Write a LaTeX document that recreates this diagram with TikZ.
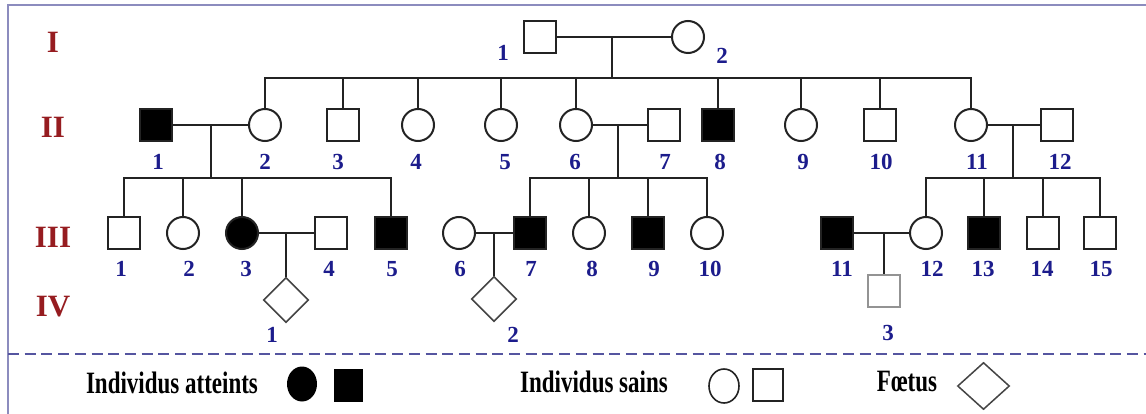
\documentclass[tikz,border=0pt]{standalone}
\usepackage{fontspec}
\setmainfont{Liberation Serif}
\usetikzlibrary{shapes.geometric}
\definecolor{genc}{RGB}{150,28,32}
\definecolor{labc}{RGB}{28,28,140}
\definecolor{framec}{RGB}{140,140,190}
\definecolor{dashc}{RGB}{85,85,160}
\definecolor{lnc}{RGB}{35,35,35}
\begin{document}
\begin{tikzpicture}[x=1pt,y=-1pt,
  sq/.style={rectangle,draw=lnc,line width=2pt,minimum size=32pt,inner sep=0pt,fill=white},
  ci/.style={circle,draw=lnc,line width=2pt,minimum size=32pt,inner sep=0pt,fill=white},
  aff/.style={fill=black},
  foetus/.style={diamond,draw=lnc!85,line width=1.6pt,minimum size=45pt,inner sep=0pt,fill=white},
  num/.style={text=labc,font=\fontsize{23}{23}\selectfont\bfseries,inner sep=0pt},
  genl/.style={text=genc,font=\fontsize{31}{31}\selectfont\bfseries,inner sep=0pt},
  legt/.style={text=black,font=\fontsize{23}{23}\selectfont\bfseries,inner sep=0pt},
  lk/.style={draw=lnc,line width=2pt}]
\useasboundingbox (0,0) rectangle (1146,414);
\fill[white] (0,0) rectangle (1146,414);
% frame
\draw[framec,line width=2.5pt] (8,414) -- (8,5) -- (1146,5);
% generation labels
\node[genl] (gI) at (53,42) {I};
\node[genl] (gII) at (53,127) {II};
\node[genl] (gIII) at (53,237) {III};
\node[genl] (gIV) at (53,307) {IV};
% coordinates of links
\coordinate (mI) at (612,37);
\coordinate (sI) at (612,78);
\coordinate (mA) at (211,125);
\coordinate (sA) at (211,178);
\coordinate (mB) at (618,125);
\coordinate (sB) at (618,178);
\coordinate (mC) at (1013,125);
\coordinate (sC) at (1013,178);
\coordinate (mD) at (286,233);
\coordinate (mE) at (494,233);
\coordinate (mF) at (884,233);
% generation I
\node[sq] (I1) at (540,37) {};
\node[ci] (I2) at (688,37) {};
% generation II
\node[sq,aff] (II1) at (156,125) {};
\node[ci] (II2) at (265,125) {};
\node[sq] (II3) at (343,125) {};
\node[ci] (II4) at (418,125) {};
\node[ci] (II5) at (501,125) {};
\node[ci] (II6) at (576,125) {};
\node[sq] (II7) at (664,125) {};
\node[sq,aff] (II8) at (718,125) {};
\node[ci] (II9) at (801,125) {};
\node[sq] (II10) at (880,125) {};
\node[ci] (II11) at (971,125) {};
\node[sq] (II12) at (1057,125) {};
% generation III
\node[sq] (III1) at (124,233) {};
\node[ci] (III2) at (183,233) {};
\node[ci,aff] (III3) at (242,233) {};
\node[sq] (III4) at (331,233) {};
\node[sq,aff] (III5) at (391,233) {};
\node[ci] (III6) at (459,233) {};
\node[sq,aff] (III7) at (530,233) {};
\node[ci] (III8) at (589,233) {};
\node[sq,aff] (III9) at (648,233) {};
\node[ci] (III10) at (707,233) {};
\node[sq,aff] (III11) at (837,233) {};
\node[ci] (III12) at (926,233) {};
\node[sq,aff] (III13) at (984,233) {};
\node[sq] (III14) at (1043,233) {};
\node[sq] (III15) at (1100,233) {};
% generation IV
\node[foetus] (IV1) at (286,300) {};
\node[foetus] (IV2) at (494,299) {};
\node[sq,draw=gray!85,line width=1.6pt] (IV3) at (884,291) {};
% links generation I
\draw[lk] (I1.east) -- (I2.west);
\draw[lk] (mI) -- (sI);
\draw[lk] (II2.north) |- (sI);
\draw[lk] (II11.north) |- (sI);
\foreach \n in {II3,II4,II5,II6,II8,II9,II10}
  \draw[lk] (\n.north) -- (\n.north |- sI);
% family A
\draw[lk] (II1.east) -- (II2.west);
\draw[lk] (mA) -- (sA);
\draw[lk] (III1.north) |- (sA);
\draw[lk] (III5.north) |- (sA);
\foreach \n in {III2,III3}
  \draw[lk] (\n.north) -- (\n.north |- sA);
% family B
\draw[lk] (II6.east) -- (II7.west);
\draw[lk] (mB) -- (sB);
\draw[lk] (III7.north) |- (sB);
\draw[lk] (III10.north) |- (sB);
\foreach \n in {III8,III9}
  \draw[lk] (\n.north) -- (\n.north |- sB);
% family C
\draw[lk] (II11.east) -- (II12.west);
\draw[lk] (mC) -- (sC);
\draw[lk] (III12.north) |- (sC);
\draw[lk] (III15.north) |- (sC);
\foreach \n in {III13,III14}
  \draw[lk] (\n.north) -- (\n.north |- sC);
% generation III couples
\draw[lk] (III3.east) -- (III4.west);
\draw[lk] (mD) -- (IV1.north);
\draw[lk] (III6.east) -- (III7.west);
\draw[lk] (mE) -- (IV2.north);
\draw[lk] (III11.east) -- (III12.west);
\draw[lk] (mF) -- (IV3.north);
% numbers
\node[num] (nI1) at (503,53) {1};
\node[num] (nI2) at (722,56) {2};
\node[num] (nII1) at (158,162) {1};
\node[num] (nII2) at (265,162) {2};
\node[num] (nII3) at (338,162) {3};
\node[num] (nII4) at (416,162) {4};
\node[num] (nII5) at (505,162) {5};
\node[num] (nII6) at (575,162) {6};
\node[num] (nII7) at (665,162) {7};
\node[num] (nII8) at (720,162) {8};
\node[num] (nII9) at (803,162) {9};
\node[num] (nII10) at (881,162) {10};
\node[num] (nII11) at (977,162) {11};
\node[num] (nII12) at (1060,162) {12};
\node[num] (nIII1) at (121,269) {1};
\node[num] (nIII2) at (189,269) {2};
\node[num] (nIII3) at (246,269) {3};
\node[num] (nIII4) at (329,269) {4};
\node[num] (nIII5) at (392,269) {5};
\node[num] (nIII6) at (460,269) {6};
\node[num] (nIII7) at (531,269) {7};
\node[num] (nIII8) at (592,269) {8};
\node[num] (nIII9) at (654,269) {9};
\node[num] (nIII10) at (710,269) {10};
\node[num] (nIII11) at (842,269) {11};
\node[num] (nIII12) at (932,269) {12};
\node[num] (nIII13) at (983,269) {13};
\node[num] (nIII14) at (1042,269) {14};
\node[num] (nIII15) at (1101,269) {15};
\node[num] (nIV1) at (272,335) {1};
\node[num] (nIV2) at (513,335) {2};
\node[num] (nIV3) at (888,333) {3};
% legend
\draw[dashc,line width=1.8pt,dash pattern=on 11pt off 5.7pt] (8,354) -- (1146,354);
\node[legt] (l1) at (172,383) {\scalebox{1}[1.35]{Individus atteints}};
\node[ellipse,fill=black,minimum width=30pt,minimum height=35pt,inner sep=0pt] (lc1) at (302,384) {};
\node[rectangle,fill=black,minimum width=29pt,minimum height=33pt,inner sep=0pt] (ls1) at (348,385) {};
\node[legt] (l2) at (594,382) {\scalebox{1}[1.35]{Individus sains}};
\node[ellipse,draw=lnc,line width=1.6pt,minimum width=30pt,minimum height=34pt,inner sep=0pt] (lc2) at (724,386) {};
\node[rectangle,draw=lnc,line width=1.6pt,minimum width=30pt,minimum height=32pt,inner sep=0pt] (ls2) at (768,385) {};
\node[legt] (l3) at (907,382) {\scalebox{1}[1.35]{Fœtus}};
\node[diamond,draw=lnc!85,line width=1.5pt,minimum width=52pt,minimum height=47pt,inner sep=0pt] (ld) at (983.5,386) {};
\end{tikzpicture}
\end{document}
